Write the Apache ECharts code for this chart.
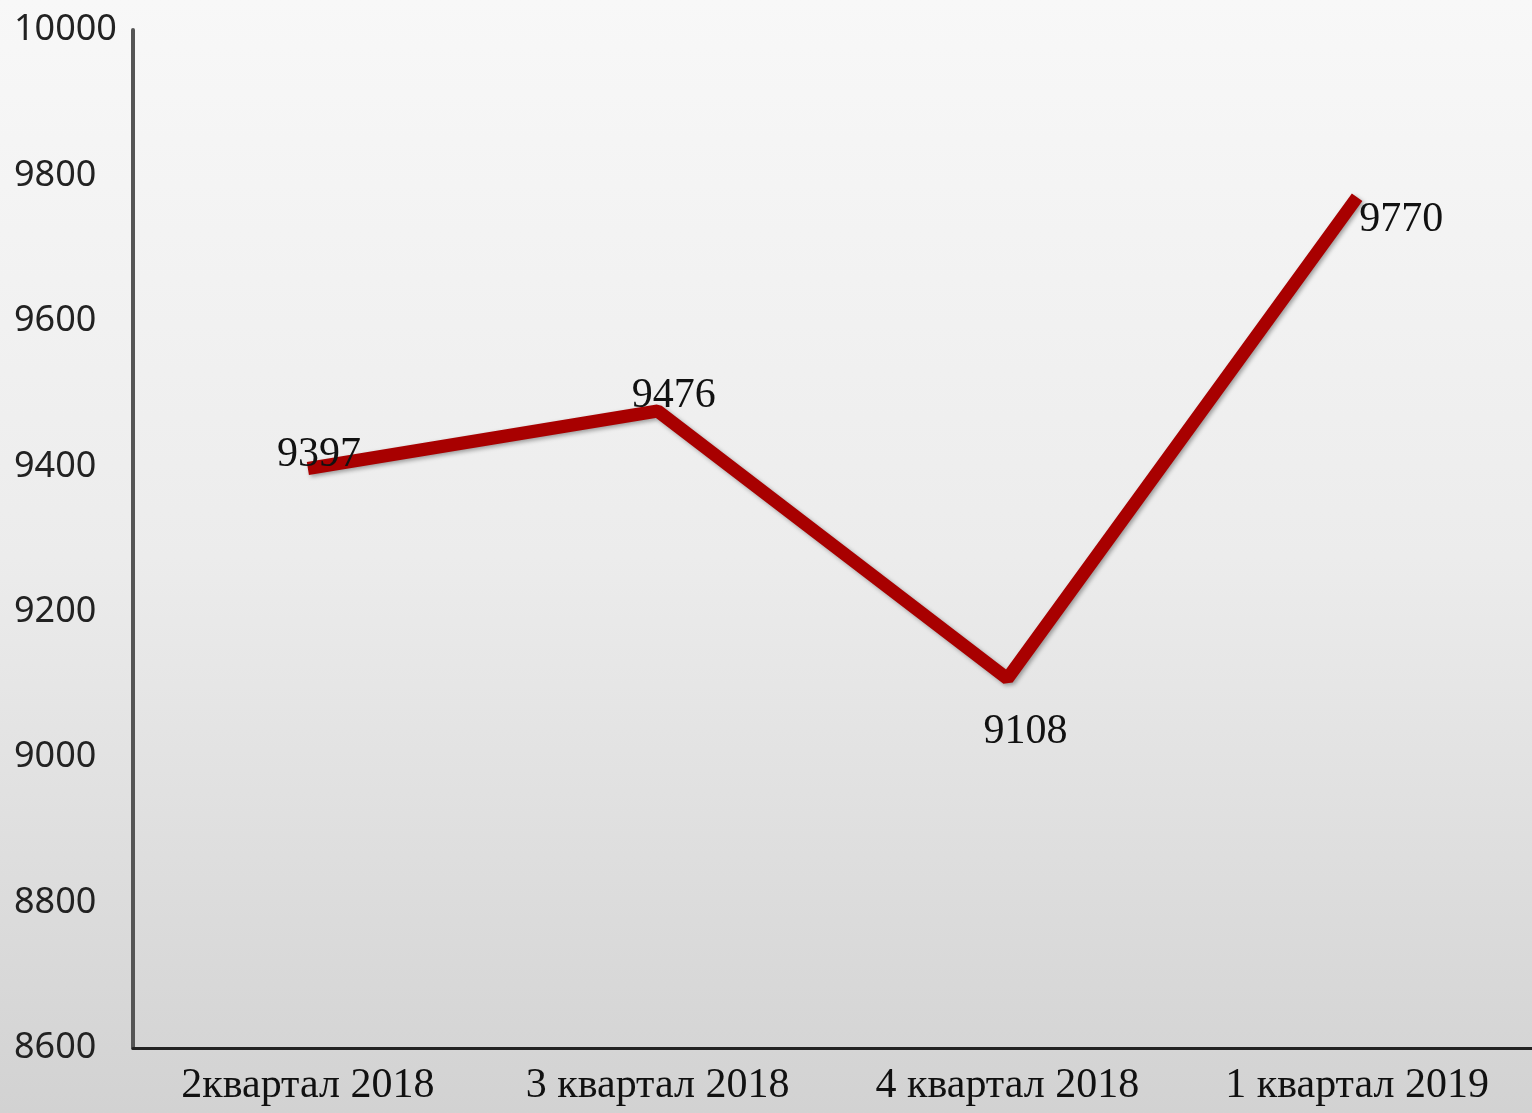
<!DOCTYPE html>
<html>
<head>
<meta charset="utf-8">
<script src="https://cdn.jsdelivr.net/npm/echarts@6/dist/echarts.min.js"></script>
<style>
  html, body { margin: 0; padding: 0; }
  #chart { width: 1532px; height: 1113px; }
</style>
</head>
<body>
<div id="chart"></div>
<script>
var categories = ['2квартал 2018', '3 квартал 2018', '4 квартал 2018', '1 квартал 2019'];
var values = [9397, 9476, 9108, 9770];
// где ставить подписи относительно точки
var labelOffsets = [[11, -13], [16, -15], [18, 53], [44, 23]];

var chart = echarts.init(document.getElementById('chart'));

var serif = '"Liberation Serif", "DejaVu Serif", serif';

var option = {
    backgroundColor: new echarts.graphic.LinearGradient(0, 0, 0, 1, [
        { offset: 0, color: '#f8f8f8' },
        { offset: 0.5, color: '#ececec' },
        { offset: 1, color: '#d2d2d2' }
    ]),
    animation: false,
    grid: {
        left: 133,
        right: 0,
        top: 30,
        bottom: 65
    },
    xAxis: {
        type: 'category',
        data: categories,
        boundaryGap: true,
        axisLine: { lineStyle: { color: '#222', width: 3 } },
        axisTick: { show: false },
        axisLabel: {
            margin: 17,
            fontFamily: serif,
            fontSize: 42,
            color: '#111'
        },
        splitLine: { show: false }
    },
    yAxis: {
        type: 'value',
        min: 8600,
        max: 10000,
        interval: 200,
        axisLine: { show: true, lineStyle: { color: '#555', width: 4 } },
        axisTick: { show: false },
        splitLine: { show: false },
        axisLabel: {
            align: 'left',
            margin: 119,
            fontFamily: '"Noto Sans", sans-serif',
            fontSize: 36,
            color: '#222',
            formatter: function (v) { return String(v); }
        }
    },
    series: [{
        type: 'line',
        data: values.map(function (v, i) {
            return {
                value: v,
                label: { offset: labelOffsets[i] }
            };
        }),
        symbol: 'circle',
        symbolSize: 1,
        itemStyle: { color: 'rgba(176,0,0,0)' },
        lineStyle: {
            color: '#a80000',
            width: 13,
            shadowColor: 'rgba(0,0,0,0.35)',
            shadowBlur: 4,
            shadowOffsetX: 2,
            shadowOffsetY: 2
        },
        label: {
            show: true,
            position: 'inside',
            fontFamily: serif,
            fontSize: 42,
            color: '#111'
        }
    }]
};

chart.setOption(option);
</script>
</body>
</html>
